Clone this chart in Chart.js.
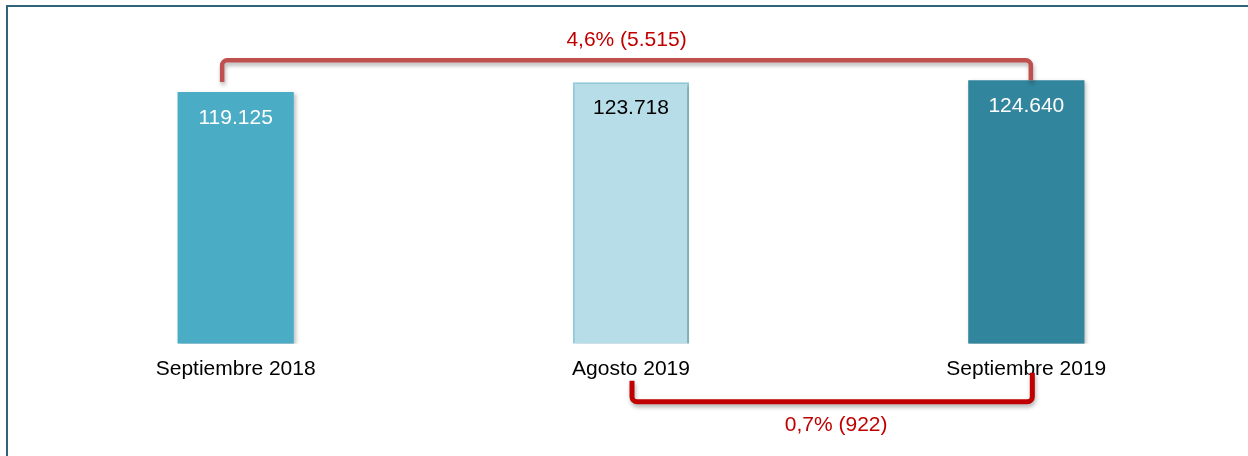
<!DOCTYPE html>
<html>
<head>
<meta charset="utf-8">
<script src="https://cdn.jsdelivr.net/npm/chart.js@4/dist/chart.umd.min.js"></script>
<style>
    html, body { margin: 0; padding: 0; background: #fff; }
    #wrap { position: relative; width: 1248px; height: 456px; }
</style>
</head>
<body>
<div id="wrap"><canvas id="chart"></canvas></div>
<script>
var labels = ['Septiembre 2018', 'Agosto 2019', 'Septiembre 2019'];
var values = [119125, 123718, 124640];
var valueLabels = ['119.125', '123.718', '124.640'];
var barColors = ['#4BACC6', '#B7DDE8', '#31859C'];
var barBorders = ['#4BACC6', '#92CDDC', '#31859C'];
var valueColors = ['#ffffff', '#000000', '#ffffff'];
var changeLabels = ['4,6% (5.515)', '0,7% (922)'];

var FONT = '"Liberation Sans", Arial, sans-serif';

var decorPlugin = {
    id: 'decor',
    beforeDraw: function(chart) {
        var ctx = chart.ctx;
        ctx.save();
        ctx.strokeStyle = '#2F6577';
        ctx.lineWidth = 2;
        ctx.beginPath();
        ctx.moveTo(7, 456);
        ctx.lineTo(7, 6);
        ctx.lineTo(1248, 6);
        ctx.stroke();
        ctx.restore();
    },
    beforeDatasetDraw: function(chart) {
        var ctx = chart.ctx;
        ctx.save();
        ctx.shadowColor = 'rgba(0,0,0,0.25)';
        ctx.shadowBlur = 4;
        ctx.shadowOffsetX = 2;
        ctx.shadowOffsetY = 2;
    },
    afterDatasetDraw: function(chart) {
        chart.ctx.restore();
    },
    afterDatasetsDraw: function(chart) {
        var ctx = chart.ctx;
        var meta = chart.getDatasetMeta(0);
        var x = chart.scales.x;
        var area = chart.chartArea;

        // value labels inside the bars
        ctx.save();
        ctx.font = '21px ' + FONT;
        ctx.textAlign = 'center';
        ctx.textBaseline = 'middle';
        for (var i = 0; i < meta.data.length; ++i) {
            ctx.fillStyle = valueColors[i];
            ctx.fillText(valueLabels[i], meta.data[i].x, meta.data[i].y + 26);
        }
        ctx.restore();

        function bracket(x1, y1, x2, y2, yh, color, width) {
            ctx.save();
            ctx.strokeStyle = color;
            ctx.lineWidth = width;
            ctx.lineJoin = 'round';
            ctx.lineCap = 'butt';
            ctx.shadowColor = 'rgba(0,0,0,0.3)';
            ctx.shadowBlur = 4;
            ctx.shadowOffsetX = 1;
            ctx.shadowOffsetY = 3;
            ctx.beginPath();
            ctx.moveTo(x1, y1);
            ctx.arcTo(x1, yh, x1 + 10, yh, 5);
            ctx.arcTo(x2, yh, x2, y2, 5);
            ctx.lineTo(x2, y2);
            ctx.stroke();
            ctx.restore();
        }

        // top bracket: Septiembre 2018 -> Septiembre 2019
        var tx1 = x.getPixelForValue(0) - 13.5;
        var tx2 = x.getPixelForValue(2) + 4.5;
        var tyh = meta.data[2].y - 20;
        bracket(tx1, meta.data[0].y - 10, tx2, meta.data[2].y, tyh, '#C0504D', 4.5);

        // bottom bracket: Agosto 2019 -> Septiembre 2019
        var bx1 = x.getPixelForValue(1) + 1;
        var bx2 = x.getPixelForValue(2) + 6;
        var byh = area.bottom + 58;
        bracket(bx1, area.bottom + 37, bx2, area.bottom + 29, byh, '#C00000', 5);

        ctx.save();
        ctx.font = '21px ' + FONT;
        ctx.textAlign = 'center';
        ctx.textBaseline = 'middle';
        ctx.fillStyle = '#C00000';
        ctx.fillText(changeLabels[0], (tx1 + tx2) / 2, tyh - 20);
        ctx.fillText(changeLabels[1], (bx1 + bx2) / 2 + 4, byh + 23);
        ctx.restore();
    }
};

new Chart(document.getElementById('chart'), {
    type: 'bar',
    data: {
        labels: labels,
        datasets: [{
            data: values,
            backgroundColor: barColors,
            borderColor: barBorders,
            borderWidth: [0, 2, 0],
            barPercentage: 0.294,
            categoryPercentage: 1
        }]
    },
    options: {
        responsive: true,
        maintainAspectRatio: false,
        animation: false,
        layout: {
            padding: { left: 38, right: 24, top: 69, bottom: 61 }
        },
        plugins: {
            legend: { display: false },
            tooltip: { enabled: false }
        },
        scales: {
            x: {
                grid: { display: false, drawTicks: false },
                border: { display: false },
                ticks: {
                    color: '#000',
                    padding: 13,
                    font: { family: FONT, size: 21 }
                }
            },
            y: {
                display: false,
                min: 0,
                max: 130000
            }
        }
    },
    plugins: [decorPlugin]
});
</script>
</body>
</html>
